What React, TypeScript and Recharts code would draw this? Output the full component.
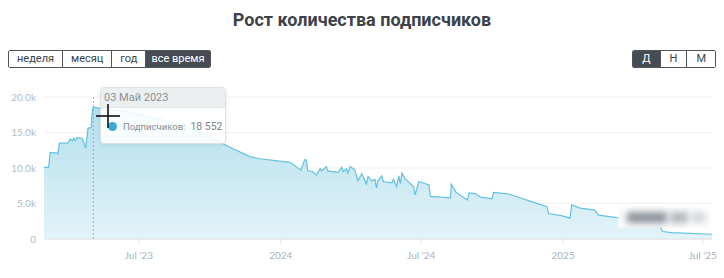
import { AreaChart, Area, XAxis, YAxis, CartesianGrid, Tooltip } from "recharts";

const dates = [
  "2023-02-28", "2023-03-06", "2023-03-08", "2023-03-17", "2023-03-18", "2023-03-20", "2023-03-31",
  "2023-04-03", "2023-04-06", "2023-04-08", "2023-04-10", "2023-04-12", "2023-04-18", "2023-04-20",
  "2023-04-23", "2023-04-26", "2023-04-30", "2023-05-02", "2023-05-03", "2023-05-11", "2023-06-19",
  "2023-07-28", "2023-09-14", "2023-10-05", "2023-10-20", "2023-10-31", "2023-11-22", "2023-12-05",
  "2024-01-13", "2024-01-27", "2024-02-01", "2024-02-03", "2024-02-05", "2024-02-11", "2024-02-16",
  "2024-02-21", "2024-02-23", "2024-02-29", "2024-03-02", "2024-03-15", "2024-03-20", "2024-03-22",
  "2024-03-26", "2024-03-28", "2024-03-31", "2024-04-06", "2024-04-10", "2024-04-15", "2024-04-21",
  "2024-04-23", "2024-04-28", "2024-05-02", "2024-05-04", "2024-05-06", "2024-05-11", "2024-05-13",
  "2024-05-24", "2024-05-26", "2024-05-30", "2024-06-02", "2024-06-04", "2024-06-06", "2024-06-10",
  "2024-06-21", "2024-06-23", "2024-06-28", "2024-07-11", "2024-07-13", "2024-08-08", "2024-08-09",
  "2024-08-15", "2024-08-30", "2024-09-01", "2024-09-09", "2024-09-16", "2024-10-01", "2024-10-03",
  "2024-10-23", "2024-11-07", "2024-11-24", "2024-12-11", "2024-12-13", "2024-12-31", "2025-01-10",
  "2025-01-12", "2025-01-23", "2025-02-11", "2025-02-16", "2025-03-12", "2025-04-10", "2025-05-07",
  "2025-05-08", "2025-05-10", "2025-05-22", "2025-07-13",
];

const subscribers = [
  10100, 10100, 12200, 12100, 12000, 13500, 13500,
  14100, 13800, 14200, 13900, 14300, 14200, 13800,
  12800, 15600, 15700, 18400, 18552, 18400, 17900,
  16900, 15300, 14200, 13300, 12700, 11600, 11300,
  10800, 9700, 11200, 11100, 9600, 9500, 9000,
  9900, 9600, 10200, 9600, 9400, 10100, 9500,
  9900, 9300, 10200, 9700, 8200, 9200, 7750,
  8800, 8200, 8400, 7200, 8200, 8900, 8100,
  7900, 8400, 7400, 8900, 7800, 9300, 8500,
  7400, 6200, 8100, 7600, 6000, 5800, 7700,
  6600, 5500, 6500, 6400, 5900, 5670, 6570,
  6340, 5770, 5150, 4540, 3590, 3260, 2930,
  4820, 4350, 4070, 3360, 3020, 2800, 2600,
  1400, 1050, 900, 670,
];

const xDomain = ["2023-02-28", "2025-07-13"];
const xTickDates = ["2023-07-01", "2024-01-01", "2024-07-01", "2025-01-01", "2025-07-01"];
const xTickLabels = ["Jul '23", "2024", "Jul '24", "2025", "Jul '25"];
const yTicks = [0, 5000, 10000, 15000, 20000];
const yTickLabels = ["0", "5.0k", "10.0k", "15.0k", "20.0k"];
const monthsRu = ["Янв", "Фев", "Мар", "Апр", "Май", "Июн", "Июл", "Авг", "Сен", "Окт", "Ноя", "Дек"];

const periods = ["неделя", "месяц", "год", "все время"];
const grains = ["Д", "Н", "М"];

const toTs = (d: string) => Date.parse(d + "T00:00:00Z");
const rows = dates.map((d, i) => ({ t: toTs(d), v: subscribers[i] }));
const activeIndex = dates.indexOf("2023-05-03");

const LINE = "#62c2df";
const FONT = "Roboto, 'Noto Sans', sans-serif";

function fmtDate(ts: number) {
  const d = new Date(ts);
  return `${String(d.getUTCDate()).padStart(2, "0")} ${monthsRu[d.getUTCMonth()]} ${d.getUTCFullYear()}`;
}

function fmtNum(v: number) {
  return String(v).replace(/\B(?=(\d{3})+(?!\d))/g, "\u00a0");
}

function TipContent({ active, payload }: any) {
  if (!active || !payload || !payload.length) return null;
  const p = payload[0].payload;
  return (
    <div style={{
      width: 124, border: "1px solid #dde1e4", borderRadius: 4, overflow: "hidden", whiteSpace: "nowrap",
      background: "rgba(255,255,255,0.88)", boxShadow: "0 1px 4px rgba(0,0,0,0.08)", fontFamily: FONT,
    }}>
      <div style={{ background: "#eceff0", color: "#8b9298", fontSize: 11, padding: "3px 3px", borderBottom: "1px solid #e0e3e5" }}>
        {fmtDate(p.t)}
      </div>
      <div style={{ display: "flex", alignItems: "center", padding: "12px 0 10px 7px", fontSize: 9.5, color: "#8a8f94" }}>
        <span style={{ width: 9, height: 9, borderRadius: 5, background: "#3aa9d9", marginRight: 6, flex: "none" }} />
        <span>Подписчиков:</span>
        <span style={{ fontSize: 10.5, marginLeft: 5, color: "#7d8388" }}>{fmtNum(p.v)}</span>
      </div>
    </div>
  );
}

function Group({ items, active, left, right, pads }: { items: string[]; active: number; left?: number; right?: number; pads: number[] }) {
  return (
    <div style={{
      position: "absolute", top: 50, left, right, display: "flex", height: 16,
      border: "1px solid #50555c", borderRadius: 2, overflow: "hidden", fontFamily: FONT, fontSize: 11,
    }}>
      {items.map((t, i) => (
        <div key={t} style={{
          padding: `0 ${pads[i]}px`, lineHeight: "16px",
          borderLeft: i ? "1px solid #50555c" : "none",
          background: i === active ? "#474c54" : "#fff", color: i === active ? "#fff" : "#3a3f45",
        }}>{t}</div>
      ))}
    </div>
  );
}

export default function App() {
  const xTickTs = xTickDates.map(toTs);
  return (
    <div style={{ position: "absolute", left: 0, top: 0, width: 724, height: 278, background: "#fff", overflow: "hidden" }}>
      <div style={{
        position: "absolute", top: 9, left: 0, width: 724, textAlign: "center",
        fontFamily: FONT, fontWeight: 700, fontSize: 18, color: "#3d424a",
      }}>
        Рост количества подписчиков
      </div>
      <Group items={periods} active={3} left={8} pads={[8, 8, 8, 5]} />
      <Group items={grains} active={0} right={8} pads={[9, 9, 9]} />

      <AreaChart width={724} height={278} data={rows} margin={{ top: 97, right: 12, bottom: 9, left: 0 }}>
        <defs>
          <linearGradient id="fillSubs" x1="0" y1="0" x2="0" y2="1">
            <stop offset="0%" stopColor="#b3dfed" stopOpacity={1} />
            <stop offset="100%" stopColor="#e3f3f9" stopOpacity={1} />
          </linearGradient>
        </defs>
        <CartesianGrid vertical={false} stroke="#f0f1f3" />
        <XAxis
          dataKey="t" type="number" scale="time" domain={xDomain.map(toTs)} ticks={xTickTs}
          tickFormatter={(v: number) => xTickLabels[xTickTs.indexOf(v)]}
          axisLine={{ stroke: "#e8ebee", strokeWidth: 2 }} tickLine={{ stroke: "#e2e5e8" }} tickSize={5} tickMargin={8}
          tick={{ fill: "#a9b2bd", fontSize: 10, fontFamily: "Lato, sans-serif" }} height={30}
          allowDataOverflow
        />
        <YAxis
          domain={[0, 20000]} ticks={yTicks} width={44} axisLine={false} tickLine={false}
          tickFormatter={(v: number) => yTickLabels[yTicks.indexOf(v)]}
          tick={{ fill: "#b3bbc5", fontSize: 10, fontFamily: "Lato, sans-serif" }}
        />
        <Tooltip
          defaultIndex={activeIndex} active content={<TipContent />} position={{ x: 100, y: 87 }}
          cursor={{ stroke: "#a3abb3", strokeDasharray: "2 2", strokeWidth: 1 }}
          wrapperStyle={{ outline: "none" }} isAnimationActive={false}
        />
        <Area
          type="linear" dataKey="v" stroke={LINE} strokeWidth={1.2} fill="url(#fillSubs)"
          fillOpacity={1} dot={false} activeDot={false} isAnimationActive={false}
        />
      </AreaChart>

      {/* blurred watermark */}
      <div style={{ position: "absolute", left: 618, top: 207, width: 92, height: 21, background: "rgba(250,251,252,0.95)", filter: "blur(1px)" }}>
        <div style={{ position: "absolute", left: 9, top: 5, width: 40, height: 11, background: "#8e959b", filter: "blur(3px)" }} />
        <div style={{ position: "absolute", left: 52, top: 5, width: 18, height: 11, background: "#b3b8bd", filter: "blur(3px)" }} />
        <div style={{ position: "absolute", left: 73, top: 6, width: 14, height: 9, background: "#cfd3d6", filter: "blur(3px)" }} />
      </div>

      {/* mouse cursor */}
      <svg width={724} height={278} style={{ position: "absolute", left: 0, top: 0, pointerEvents: "none" }}>
        <line x1={96} y1={116} x2={120} y2={116} stroke="#111" strokeWidth={1.6} />
        <line x1={108} y1={104} x2={108} y2={128} stroke="#111" strokeWidth={1.6} />
      </svg>
    </div>
  );
}
